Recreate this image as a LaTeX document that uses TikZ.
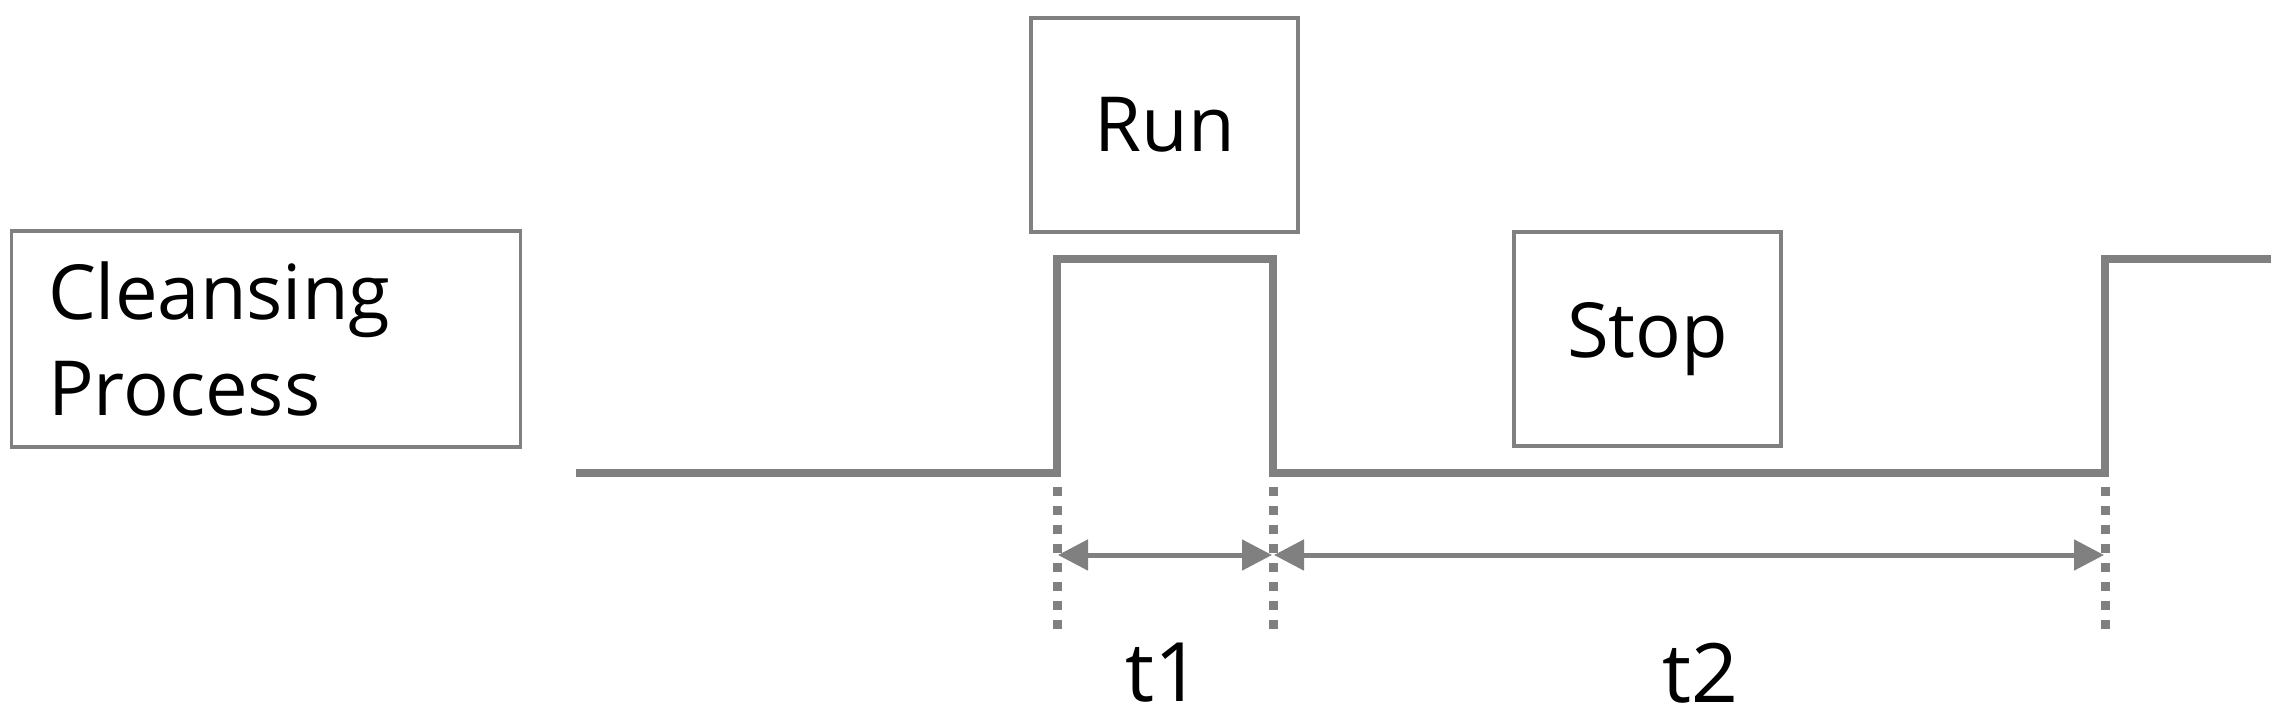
\documentclass[tikz,border=0pt]{standalone}
\usepackage{fontspec}
\setmainfont{Open Sans}
\usetikzlibrary{arrows.meta}
\definecolor{lg}{HTML}{808080}
\tikzset{
  box/.style={draw=lg, line width=1.7pt, fill=white, inner sep=0pt},
  lbl/.style={font=\fontsize{38}{48}\selectfont, text=black},
  tlbl/.style={font=\fontsize{41}{48}\selectfont, text=black, inner sep=0pt},
  sig/.style={draw=lg, line width=4pt, line join=miter},
  guide/.style={draw=lg, line width=4.5pt, dash pattern=on 4.5pt off 5pt},
  dim/.style={draw=lg, line width=2.5pt, {Triangle[length=15pt,width=15pt]}-{Triangle[length=15pt,width=15pt]}, shorten <=0.5pt, shorten >=0.5pt}
}
\begin{document}
\begin{tikzpicture}[x=0.5pt,y=-0.5pt]
\useasboundingbox (0,0) rectangle (2287,718);
% boxes
\node[box, lbl, minimum width=254.5pt, minimum height=108pt, align=left, text width=218pt] (clean) at (266,339) {Cleansing\\Process};
\node[box, lbl, minimum width=133.5pt, minimum height=107pt] (run) at (1164.5,125) {Run};
\node[box, lbl, minimum width=133.5pt, minimum height=107pt] (stop) at (1647.5,339) {Stop};
% signal coordinates
\coordinate (s0) at (576,473);
\coordinate (r1) at (1057,473);
\coordinate (r1h) at (1057,259);
\coordinate (f1h) at (1273,259);
\coordinate (f1) at (1273,473);
\coordinate (r2) at (2105,473);
\coordinate (r2h) at (2105,259);
\coordinate (s9) at (2271,259);
\draw[sig] (s0) -- (r1) -- (r1h) -- (f1h) -- (f1) -- (r2) -- (r2h) -- (s9);
% guides
\coordinate (g1a) at (1057,487); \coordinate (g1b) at (1057,630);
\coordinate (g2a) at (1273,487); \coordinate (g2b) at (1273,630);
\coordinate (g3a) at (2105,487); \coordinate (g3b) at (2105,630);
\draw[guide] (g1a) -- (g1b);
\draw[guide] (g2a) -- (g2b);
\draw[guide] (g3a) -- (g3b);
% dimension arrows
\coordinate (d1) at (1057,555);
\coordinate (d2) at (1273,555);
\coordinate (d3) at (2105,555);
\draw[dim] (d1) -- (d2);
\draw[dim] (d2) -- (d3);
% labels
\node[tlbl] (t1) at (1163,673) {t1};
\node[tlbl] (t2) at (1700,673) {t2};
\end{tikzpicture}
\end{document}
